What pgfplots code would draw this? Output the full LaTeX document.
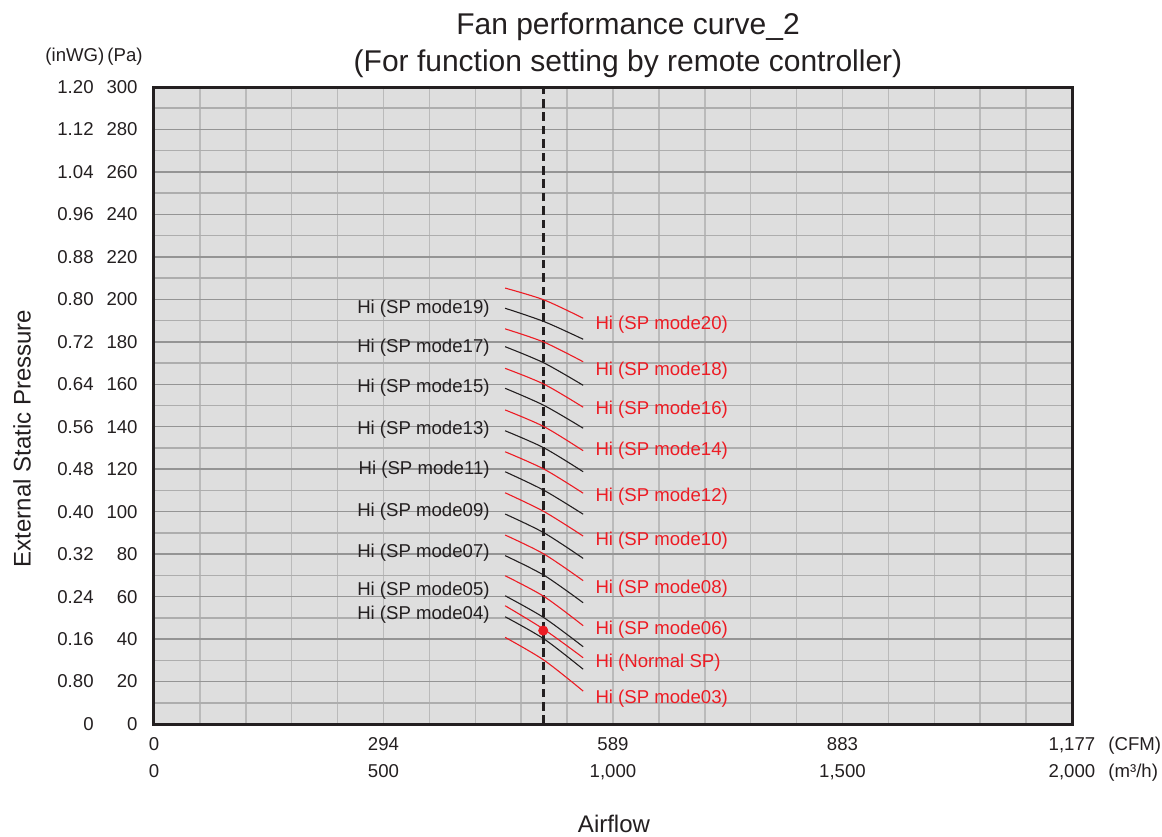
\documentclass[border=0pt]{standalone}
\usepackage{pgfplots}
\pgfplotsset{compat=1.18}
\usepackage{fontspec}
\setmainfont{Liberation Sans}
\definecolor{cred}{HTML}{ED1C24}
\definecolor{cblk}{HTML}{231F20}
\definecolor{bgg}{HTML}{DEDEDE}
\newcommand{\yl}[2]{\makebox[25pt][r]{#1}\makebox[22pt][r]{#2}}
\begin{document}
\begin{tikzpicture}
\useasboundingbox (-77pt,-56pt) rectangle (504pt,362pt);
\begin{axis}[
  width=459pt, height=318.5pt, scale only axis,
  xmin=0, xmax=2000, ymin=0, ymax=300,
  axis background/.style={fill=bgg},
  axis line style={line width=1.5pt, draw=cblk},
  xtick={0,500,1000,1500,2000},
  minor xtick={100,200,...,1900},
  ytick={0,20,...,300},
  minor ytick={10,30,...,290},
  grid=both,
  major x grid style={draw=black!27, line width=0.75pt},
  minor x grid style={draw=black!27, line width=0.75pt},
  major y grid style={draw=black!42, line width=0.75pt},
  minor y grid style={draw=black!32, line width=0.75pt},
  tick style={draw=none},
  /pgf/number format/assume math mode=true,
  ticklabel style={font=\fontsize{9.3}{13.5}\selectfont, text=cblk},
  xticklabels={{0\\0},{294\\500},{589\\1,000},{883\\1,500},{1,177\\2,000}},
  xticklabel style={align=center, anchor=north, inner sep=0pt, yshift=-6.5pt},
  yticklabels={{\yl{0}{0}},{\yl{0.80}{20}},{\yl{0.16}{40}},{\yl{0.24}{60}},{\yl{0.32}{80}},{\yl{0.40}{100}},{\yl{0.48}{120}},{\yl{0.56}{140}},{\yl{0.64}{160}},{\yl{0.72}{180}},{\yl{0.80}{200}},{\yl{0.88}{220}},{\yl{0.96}{240}},{\yl{1.04}{260}},{\yl{1.12}{280}},{\yl{1.20}{300}}},
  yticklabel style={anchor=east, inner sep=0pt, xshift=-8pt},
  clip=false,
]
% dashed reference line
\addplot[cblk, line width=1.3pt, dash pattern=on 4.3pt off 2.4pt] coordinates {(848,0) (848,300)};
% red curves
\addplot[cred, line width=0.55pt, smooth] coordinates {(765,205.3) (850,199.7) (935,191.1)};
\addplot[cred, line width=0.55pt, smooth] coordinates {(765,186.1) (850,179.8) (935,170.6)};
\addplot[cred, line width=0.55pt, smooth] coordinates {(765,167.5) (850,160) (935,149.2)};
\addplot[cred, line width=0.55pt, smooth] coordinates {(765,147.9) (850,140) (935,128.7)};
\addplot[cred, line width=0.55pt, smooth] coordinates {(765,128.2) (850,120) (935,108.7)};
\addplot[cred, line width=0.55pt, smooth] coordinates {(765,108.9) (850,100) (935,88.5)};
\addplot[cred, line width=0.55pt, smooth] coordinates {(765,89.0) (850,80) (935,67.5)};
\addplot[cred, line width=0.55pt, smooth] coordinates {(765,69.8) (850,60) (935,46.3)};
\addplot[cred, line width=0.55pt, smooth] coordinates {(765,55.7) (850,44.5) (935,31.2)};
\addplot[cred, line width=0.55pt, smooth] coordinates {(765,40.8) (850,30) (935,15.5)};
% black curves
\addplot[cblk, line width=0.55pt, smooth] coordinates {(765,195.8) (850,189.5) (935,181.2)};
\addplot[cblk, line width=0.55pt, smooth] coordinates {(765,177.7) (850,170) (935,159.5)};
\addplot[cblk, line width=0.55pt, smooth] coordinates {(765,158.1) (850,150) (935,139.3)};
\addplot[cblk, line width=0.55pt, smooth] coordinates {(765,138.1) (850,130) (935,118.8)};
\addplot[cblk, line width=0.55pt, smooth] coordinates {(765,118.8) (850,110) (935,98.8)};
\addplot[cblk, line width=0.55pt, smooth] coordinates {(765,98.9) (850,90) (935,78.0)};
\addplot[cblk, line width=0.55pt, smooth] coordinates {(765,79.3) (850,70) (935,57.1)};
\addplot[cblk, line width=0.55pt, smooth] coordinates {(765,60.4) (850,50) (935,36.4)};
\addplot[cblk, line width=0.55pt, smooth] coordinates {(765,50.5) (850,40) (935,25.8)};
% operating point
\addplot[only marks, mark=*, mark size=2.3pt, cred] coordinates {(848,44)};
% labels
\begin{scope}[every node/.style={font=\fontsize{9.3}{11}\selectfont, inner sep=0pt, yshift=-1.4pt}]
\node[anchor=east, text=cblk] at (axis cs:732,196.9) {Hi (SP mode19)};
\node[anchor=east, text=cblk] at (axis cs:732,178.5) {Hi (SP mode17)};
\node[anchor=east, text=cblk] at (axis cs:732,159.7) {Hi (SP mode15)};
\node[anchor=east, text=cblk] at (axis cs:732,139.9) {Hi (SP mode13)};
\node[anchor=east, text=cblk] at (axis cs:732,121.0) {Hi (SP mode11)};
\node[anchor=east, text=cblk] at (axis cs:732,101.3) {Hi (SP mode09)};
\node[anchor=east, text=cblk] at (axis cs:732,81.9) {Hi (SP mode07)};
\node[anchor=east, text=cblk] at (axis cs:732,64.1) {Hi (SP mode05)};
\node[anchor=east, text=cblk] at (axis cs:732,52.7) {Hi (SP mode04)};
\node[anchor=west, text=cred] at (axis cs:961,189.3) {Hi (SP mode20)};
\node[anchor=west, text=cred] at (axis cs:961,167.7) {Hi (SP mode18)};
\node[anchor=west, text=cred] at (axis cs:961,149.3) {Hi (SP mode16)};
\node[anchor=west, text=cred] at (axis cs:961,130.0) {Hi (SP mode14)};
\node[anchor=west, text=cred] at (axis cs:961,108.3) {Hi (SP mode12)};
\node[anchor=west, text=cred] at (axis cs:961,87.6) {Hi (SP mode10)};
\node[anchor=west, text=cred] at (axis cs:961,65.0) {Hi (SP mode08)};
\node[anchor=west, text=cred] at (axis cs:961,45.7) {Hi (SP mode06)};
\node[anchor=west, text=cred] at (axis cs:961,30.1) {Hi (Normal SP)};
\node[anchor=west, text=cred] at (axis cs:961,13.2) {Hi (SP mode03)};
\end{scope}
\end{axis}
% outside texts
\node[font=\fontsize{15}{18.5}\selectfont, align=center, anchor=south, text=cblk, inner sep=0pt] at (237pt,323pt) {Fan performance curve\_2\\(For function setting by remote controller)};
\node[font=\fontsize{9.3}{11}\selectfont, anchor=east, text=cblk, inner sep=0pt] at (-5.5pt,333.5pt) {(inWG)\,(Pa)};
\node[font=\fontsize{9.3}{11}\selectfont, anchor=west, text=cblk, inner sep=0pt] at (477pt,-11pt) {(CFM)};
\node[font=\fontsize{9.3}{11}\selectfont, anchor=west, text=cblk, inner sep=0pt] at (477pt,-24.5pt) {(m³/h)};
\node[font=\fontsize{12}{14}\selectfont, text=cblk, inner sep=0pt] at (230pt,-50pt) {Airflow};
\node[font=\fontsize{12}{14}\selectfont, text=cblk, inner sep=0pt, rotate=90] at (-66pt,142.75pt) {External Static Pressure};
\end{tikzpicture}
\end{document}
